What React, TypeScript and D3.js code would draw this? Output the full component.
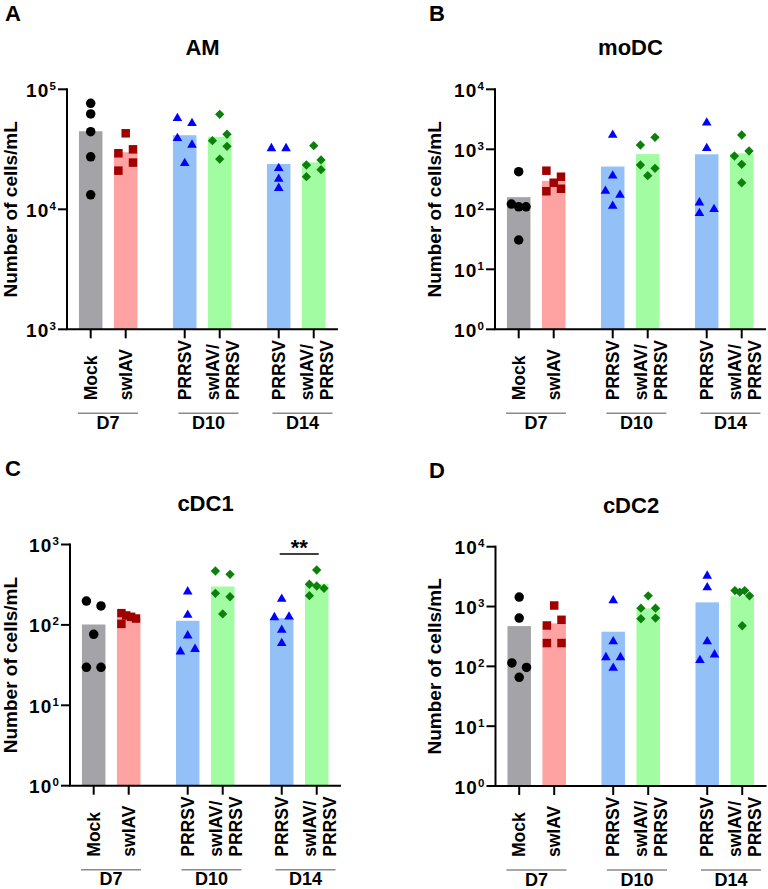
import React from 'react';
import * as d3 from 'd3';

const FONT = '"Liberation Sans", Arial, Helvetica, sans-serif';

// x categories, drawn as stacked (rotated) lines
const categoryLines = [['Mock'], ['swIAV'], ['PRRSV'], ['swIAV/', 'PRRSV'], ['PRRSV'], ['swIAV/', 'PRRSV']];
const categoryGroup = [0, 0, 1, 1, 2, 2];
const groupLabels = ['D7', 'D10', 'D14'];

const barColors = ['#a4a4a8', '#ffa2a2', '#93c1f7', '#a2fda2', '#93c1f7', '#a2fda2'];
const dotColors = ['#000000', '#a00000', '#0000ff', '#0b800b', '#0000ff', '#0b800b'];
const dotShapes = ['circle', 'square', 'triangle', 'diamond', 'triangle', 'diamond'];

// cells/mL, one value per animal
const amCounts = [
  [76400, 62300, 44300, 27400, 13200],
  [43000, 29300, 31600, 21000, 24500],
  [57300, 52100, 39100, 34400, 24200],
  [61900, 37300, 42200, 33500, 26200],
  [32200, 32200, 22000, 17900, 15000],
  [33900, 23400, 25800, 18700, 21400],
];
const modcCounts = [
  [424, 122, 110, 110, 30.8],
  [440, 349, 200, 277, 220],
  [1730, 363, 202, 173, 113.5],
  [1180, 1585, 547, 482, 363],
  [2773, 1040, 129, 100, 86],
  [1730, 773, 938, 562, 277],
];
const cdc1Counts = [
  [198, 172, 76.4, 29.7, 29.7],
  [140, 131, 126, 120, 103],
  [259, 133, 73.5, 46.5, 50],
  [468, 426, 247, 224, 137],
  [210, 124, 126, 86.5, 59],
  [482, 320, 305, 285, 231],
];
const cdc2Counts = [
  [1436, 641, 114, 96, 65.6],
  [1040, 482, 600, 245, 245],
  [1259, 261, 141, 141, 94],
  [1507, 940, 940, 624, 641],
  [3251, 2075, 261, 126, 157],
  [1849, 1738, 1849, 1507, 477],
];

const panels = [
  { letter: 'A', title: 'AM', counts: amCounts, decades: [3, 5] },
  { letter: 'B', title: 'moDC', counts: modcCounts, decades: [0, 4] },
  { letter: 'C', title: 'cDC1', counts: cdc1Counts, decades: [0, 3], sig: { from: 4, to: 5, label: '**' } },
  { letter: 'D', title: 'cDC2', counts: cdc2Counts, decades: [0, 4] },
];

// where each panel sits on the page
const frames = [
  { left: 0, axisX: 67, top: 89.3, bottom: 329.3 },
  { left: 424, axisX: 495, top: 89.3, bottom: 329.3 },
  { left: 0, axisX: 70, top: 544.5, bottom: 785.7 },
  { left: 424, axisX: 495.5, top: 546.7, bottom: 786 },
];

const AXIS_LEN = 271;
const BAR_W = 23.5;
const SLOT = 35;
const GROUP_GAP = 0.686; // extra slots between day groups
const HALF_STEP = 7.3;

const markerSize: Record<string, number> = { circle: 9.5, square: 8.5, triangle: 8, diamond: 9 };

const symbolPaths: Record<string, string> = {
  circle: d3.symbol(d3.symbolCircle, Math.PI * 4.75 * 4.75)() as string,
  square: d3.symbol(d3.symbolSquare, 8.5 * 8.5)() as string,
  triangle: d3.symbol(d3.symbolTriangle, 40)() as string,
  diamond: d3.symbol(d3.symbolSquare, 6.6 * 6.6)() as string,
};

// scatter spread: close values share a row, lone points dodge overlaps
function spread(ys: number[], size: number): number[] {
  const order = d3.range(ys.length).sort((a, b) => ys[a] - ys[b]);
  const rows: number[][] = [];
  let cur: number[] = [];
  order.forEach((i) => {
    if (cur.length && ys[i] - ys[cur[0]] >= 9) {
      rows.push(cur);
      cur = [];
    }
    cur.push(i);
  });
  if (cur.length) rows.push(cur);

  const dx: number[] = ys.map(() => 0);
  const placed: number[] = [];
  rows.forEach((row) => {
    const members = row.slice().sort((a, b) => a - b);
    if (members.length === 1) {
      const i = members[0];
      const ok = [0, -HALF_STEP, HALF_STEP, -2 * HALF_STEP, 2 * HALF_STEP].find((o) =>
        placed.every((j) => Math.hypot(o - dx[j], ys[i] - ys[j]) >= size * 1.1)
      );
      dx[i] = ok ?? 0;
    } else {
      const n = members.length;
      members.forEach((i, k) => (dx[i] = -HALF_STEP + (2 * HALF_STEP * k) / (n - 1)));
    }
    placed.push(...members);
  });
  return dx;
}

function labelBaselines(tick: number, n: number) {
  return d3.range(n).map((k) => tick + 6 + (k - (n - 1) / 2) * 20 + (n - 1) * 3);
}

function Panel({ panel, frame }: { panel: any; frame: any }) {
  const [lo, hi] = panel.decades;
  const y = d3.scaleLog().domain([10 ** lo, 10 ** hi]).range([frame.bottom, frame.top]);
  const x = d3
    .scaleLinear()
    .domain([0, 1])
    .range([frame.axisX + 23.7, frame.axisX + 23.7 + SLOT]);
  const cx = (i: number) => x(categoryGroup[i] * (2 + GROUP_GAP) + (i % 2));
  const decades = d3.range(lo, hi + 1);
  const axisMid = (frame.top + frame.bottom) / 2;

  const groupSpans = groupLabels.map((label, g) => {
    const members = d3.range(categoryLines.length).filter((i) => categoryGroup[i] === g);
    const lefts = members.map((i) => labelBaselines(cx(i), categoryLines[i].length)[0] - 12.5);
    const rights = members.map((i) => {
      const b = labelBaselines(cx(i), categoryLines[i].length);
      return b[b.length - 1];
    });
    const mid = ((d3.min(lefts) as number) + (d3.max(rights) as number)) / 2;
    return { label, mid };
  });

  return (
    <g fontFamily={FONT} fontWeight="bold">
      <text x={frame.left + 5} y={frame.top - 68.5} fontSize={22}>
        {panel.letter}
      </text>
      <text x={frame.axisX + AXIS_LEN / 2} y={frame.top - 34} fontSize={22} textAnchor="middle">
        {panel.title}
      </text>
      <text
        transform={`translate(${frame.left + 17},${axisMid}) rotate(-90)`}
        fontSize={19}
        textAnchor="middle"
      >
        Number of cells/mL
      </text>

      {/* bars at the group mean */}
      {panel.counts.map((vals: number[], i: number) => {
        const m = d3.mean(vals) as number;
        return (
          <rect
            key={`bar${i}`}
            x={cx(i) - BAR_W / 2}
            y={y(m)}
            width={BAR_W}
            height={frame.bottom - y(m)}
            fill={barColors[i]}
          />
        );
      })}

      {/* individual animals */}
      {panel.counts.map((vals: number[], i: number) => {
        const ys = vals.map((v) => y(v));
        const dx = spread(ys, markerSize[dotShapes[i]]);
        return vals.map((v, k) => (
          <path
            key={`pt${i}-${k}`}
            d={symbolPaths[dotShapes[i]]}
            transform={`translate(${cx(i) + dx[k]},${ys[k]})${dotShapes[i] === 'diamond' ? ' rotate(45)' : ''}`}
            fill={dotColors[i]}
          />
        ));
      })}

      {/* y axis */}
      <line x1={frame.axisX} x2={frame.axisX} y1={frame.top - 1} y2={frame.bottom} stroke="#000" strokeWidth={2} />
      {decades.map((d) => (
        <g key={`yt${d}`}>
          <line x1={frame.axisX - 9} x2={frame.axisX} y1={y(10 ** d)} y2={y(10 ** d)} stroke="#000" strokeWidth={2} />
          <text x={frame.axisX - 11} y={y(10 ** d) + 7.5} fontSize={19} textAnchor="end" letterSpacing={1.2}>
            10
            <tspan fontSize={11.5} dy={-7} letterSpacing={0}>
              {d}
            </tspan>
          </text>
        </g>
      ))}

      {/* x axis */}
      <line
        x1={frame.axisX - 1}
        x2={frame.axisX + AXIS_LEN}
        y1={frame.bottom}
        y2={frame.bottom}
        stroke="#000"
        strokeWidth={2}
      />
      {categoryLines.map((lines, i) => {
        const bases = labelBaselines(cx(i), lines.length);
        return (
          <g key={`xt${i}`}>
            <line x1={cx(i)} x2={cx(i)} y1={frame.bottom} y2={frame.bottom + 9} stroke="#000" strokeWidth={2} />
            {lines.map((ln, k) => (
              <text
                key={k}
                transform={`translate(${bases[k]},${frame.bottom + 71}) rotate(-90)`}
                fontSize={17.5}
              >
                {ln}
              </text>
            ))}
          </g>
        );
      })}

      {/* day groups */}
      {groupSpans.map(({ label, mid }) => (
        <g key={label}>
          <line
            x1={mid - 30}
            x2={mid + 30}
            y1={frame.bottom + 84}
            y2={frame.bottom + 84}
            stroke="#8a8a8a"
            strokeWidth={1.5}
          />
          <text x={mid} y={frame.bottom + 99.5} fontSize={18} textAnchor="middle">
            {label}
          </text>
        </g>
      ))}

      {panel.sig && (
        <g>
          <line
            x1={cx(panel.sig.from) - 2}
            x2={cx(panel.sig.to) + 2}
            y1={frame.top + 9.5}
            y2={frame.top + 9.5}
            stroke="#000"
            strokeWidth={1.5}
          />
          <text
            x={(cx(panel.sig.from) + cx(panel.sig.to)) / 2}
            y={frame.top + 10}
            fontSize={22}
            textAnchor="middle"
          >
            {panel.sig.label}
          </text>
        </g>
      )}
    </g>
  );
}

export default function App() {
  return (
    <svg
      width={768}
      height={889}
      viewBox="0 0 768 889"
      style={{ position: 'absolute', left: 0, top: 0, background: '#fff' }}
    >
      <rect width={768} height={889} fill="#fff" />
      {panels.map((p, i) => (
        <Panel key={p.letter} panel={p} frame={frames[i]} />
      ))}
    </svg>
  );
}
